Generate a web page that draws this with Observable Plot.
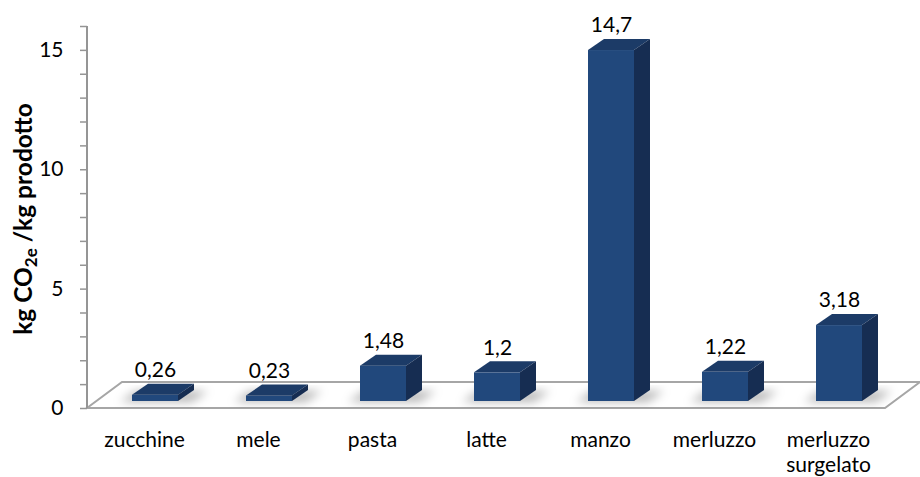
<!DOCTYPE html>
<html>
<head>
<meta charset="utf-8">
<script src="https://cdn.jsdelivr.net/npm/d3@7"></script>
<script src="https://cdn.jsdelivr.net/npm/@observablehq/plot@0.6"></script>
<style>
  html, body { margin: 0; padding: 0; background: #fff; }
</style>
</head>
<body>
<div id="chart"></div>
<script>
// Emissions per kg of product (kg CO2e / kg)
const categories = ["zucchine", "mele", "pasta", "latte", "manzo", "merluzzo", "merluzzo\nsurgelato"];
const values = [0.26, 0.23, 1.48, 1.2, 14.7, 1.22, 3.18];
const yTicks = [0, 1, 2, 3, 4, 5, 6, 7, 8, 9, 10, 11, 12, 13, 14, 15, 16];
const yTickLabels = [0, 5, 10, 15];

const rows = categories.map((category, i) => ({
  category,
  value: values[i],
  label: String(values[i]).replace(".", ",")
}));

// pseudo-3D geometry (pixel offsets)
const shift = {dx: 11, dy: -7};        // bar front face sits inside the floor
const depth = {dx: 16, dy: -11};       // bar depth
const floorDepth = {dx: 35, dy: -26};  // floor depth

const colors = {front: "#21487c", top: "#1c3b67", side: "#162d52", grid: "#a6a6a6", axis: "#959595"};

function getScales(args) {
  return args.length >= 4 ? args[1] : args[0];
}

// floor parallelogram
function floor(...args) {
  const {x, y} = getScales(args);
  const [x0, x1] = x.range();
  const y0 = y(0);
  const g = d3.create("svg:g");
  g.append("path")
    .attr("d", `M${x0},${y0}L${x1},${y0}L${x1 + floorDepth.dx},${y0 + floorDepth.dy}L${x0 + floorDepth.dx},${y0 + floorDepth.dy}Z`)
    .attr("fill", "#fff")
    .attr("stroke", colors.grid)
    .attr("stroke-width", 2);
  return g.node();
}

// soft shadows on the floor around each bar base
function shadows(...args) {
  const {x, y} = getScales(args);
  const w = x.bandwidth();
  const g = d3.create("svg:g");
  g.append("defs").append("filter").attr("id", "bar-shadow")
    .attr("x", "-50%").attr("y", "-50%").attr("width", "200%").attr("height", "200%")
    .append("feGaussianBlur").attr("stdDeviation", 5);
  for (const d of rows) {
    const l = x(d.category) + shift.dx - 12;
    const r = x(d.category) + shift.dx + w + 14;
    const b = y(0) + shift.dy + 1;
    g.append("path")
      .attr("d", `M${l},${b}L${r},${b}L${r + depth.dx},${b + depth.dy}L${l + depth.dx},${b + depth.dy}Z`)
      .attr("fill", "#000")
      .attr("fill-opacity", 0.28)
      .attr("filter", "url(#bar-shadow)");
  }
  return g.node();
}

// top and side faces of the bars
function barFaces(...args) {
  const {x, y} = getScales(args);
  const w = x.bandwidth();
  const g = d3.create("svg:g");
  for (const d of rows) {
    const l = x(d.category) + shift.dx, r = l + w;
    const t = y(d.value) + shift.dy, b = y(0) + shift.dy;
    g.append("path")
      .attr("d", `M${l},${t}L${r},${t}L${r + depth.dx},${t + depth.dy}L${l + depth.dx},${t + depth.dy}Z`)
      .attr("fill", colors.top);
    g.append("path")
      .attr("d", `M${r},${t}L${r + depth.dx},${t + depth.dy}L${r + depth.dx},${b + depth.dy}L${r},${b}Z`)
      .attr("fill", colors.side);
  }
  return g.node();
}

// vertical axis line along the left edge of the frame
function yAxisLine(...args) {
  const {x, y} = getScales(args);
  const x0 = x.range()[0];
  const [y0, y1] = y.range();
  const g = d3.create("svg:g");
  g.append("line")
    .attr("x1", x0).attr("x2", x0)
    .attr("y1", y0).attr("y2", y1)
    .attr("stroke", colors.axis)
    .attr("stroke-width", 2);
  return g.node();
}

// rotated y-axis title with subscript
function yTitle(...args) {
  const {y} = getScales(args);
  const cy = (y(0) + y(16)) / 2 + 2;
  const t = d3.create("svg:text")
    .attr("transform", `translate(32,${cy}) rotate(-90)`)
    .attr("text-anchor", "middle")
    .attr("font-weight", "bold")
    .attr("font-size", 24.5)
    .attr("fill", "#000");
  t.append("tspan").text("kg CO");
  t.append("tspan").attr("dy", 5).attr("font-size", 17).text("2e");
  t.append("tspan").attr("dy", -5).text(" /kg prodotto");
  return t.node();
}

const chart = Plot.plot({
  width: 920,
  height: 477,
  marginLeft: 87,
  marginRight: 35,
  marginTop: 26,
  marginBottom: 69,
  style: {fontFamily: "Lato, 'Open Sans', sans-serif", fontSize: "21px", color: "#000", background: "#fff"},
  x: {domain: categories, paddingInner: 0.6, paddingOuter: 0.3, axis: null},
  y: {domain: [0, 16], axis: null},
  marks: [
    floor,
    shadows,
    Plot.barY(rows, {x: "category", y: "value", fill: colors.front, dx: shift.dx, dy: shift.dy}),
    barFaces,
    Plot.text(rows, {x: "category", y: "value", text: "label", dx: shift.dx, dy: -32, lineAnchor: "middle", fill: "#000"}),
    Plot.text(rows, {x: "category", text: "category", frameAnchor: "bottom", dy: 21, lineAnchor: "top", lineHeight: 1.17, fill: "#000"}),
    Plot.axisY(yTicks, {
      anchor: "left",
      tickSize: 7,
      tickPadding: 17,
      tickFormat: d => yTickLabels.includes(d) ? String(d) : "",
      stroke: colors.axis,
      strokeWidth: 1.5,
      fill: "#000",
      label: null
    }),
    yAxisLine,
    yTitle
  ]
});

document.getElementById("chart").appendChild(chart);
</script>
</body>
</html>
